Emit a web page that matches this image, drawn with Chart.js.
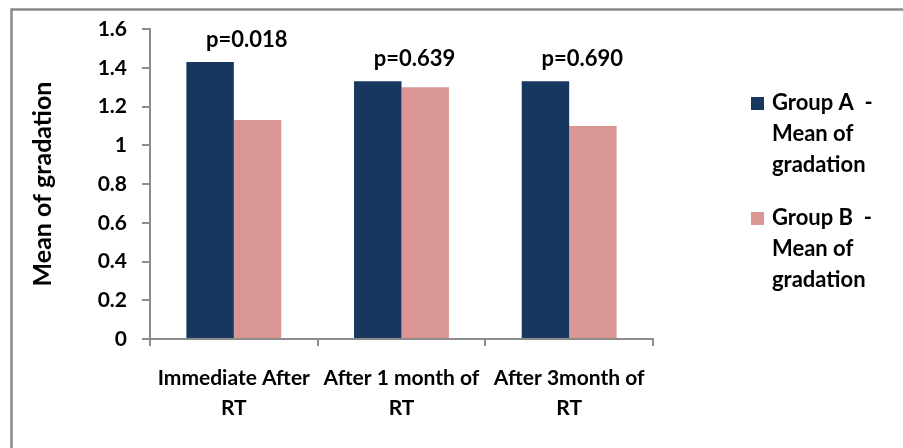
<!DOCTYPE html>
<html>
<head>
<meta charset="utf-8">
<script src="https://cdn.jsdelivr.net/npm/chart.js@4.4.1/dist/chart.umd.min.js"></script>
<style>
  html, body { margin: 0; padding: 0; background: #ffffff; }
  #wrap { position: relative; width: 903px; height: 448px; }
</style>
</head>
<body>
<div id="wrap"><canvas id="chart" width="903" height="448"></canvas></div>
<script>
// Time points after radiotherapy
const categories = [["Immediate After", "RT"], ["After 1 month of", "RT"], ["After 3month of", "RT"]];

// Mean gradation per group
const groupA = [1.43, 1.33, 1.33];
const groupB = [1.13, 1.30, 1.10];

// Series names, wrapped as shown in the legend
const seriesNames = [
  ["Group A  -", "Mean of", "gradation"],
  ["Group B  -", "Mean of", "gradation"]
];

// Significance between groups at each time point
const pValues = ["p=0.018", "p=0.639", "p=0.690"];

// Value axis
const yMin = 0, yMax = 1.6, yStep = 0.2;

const FONT = "Lato, 'Open Sans', sans-serif";
const WEIGHT = "bold";
const colors = ["#17375E", "#D99694"];
const axisGray = "#8c8c8c";

// Frame around the figure (top and left edges visible)
const framePlugin = {
  id: "frame",
  beforeDraw(chart) {
    const ctx = chart.ctx;
    ctx.save();
    ctx.strokeStyle = "#8a8a8a";
    ctx.lineWidth = 2.5;
    ctx.strokeRect(11.5, 9.5, 1200, 1200);
    ctx.restore();
  }
};

// p-value labels above each pair of bars
const pValuePlugin = {
  id: "pvalues",
  afterDatasetsDraw(chart) {
    const ctx = chart.ctx;
    const x = chart.scales.x, y = chart.scales.y;
    ctx.save();
    ctx.font = WEIGHT + " 22px " + FONT;
    ctx.fillStyle = "#000";
    ctx.textAlign = "center";
    ctx.textBaseline = "middle";
    pValues.forEach((txt, i) => {
      const top = y.getPixelForValue(Math.max(groupA[i], groupB[i]));
      ctx.fillText(txt, x.getPixelForValue(i) + 13, top - 22);
    });
    ctx.restore();
  }
};

// Legend to the right of the plot
const legendPlugin = {
  id: "sideLegend",
  afterDraw(chart) {
    const ctx = chart.ctx;
    ctx.save();
    ctx.font = WEIGHT + " 22px " + FONT;
    ctx.textBaseline = "middle";
    ctx.textAlign = "left";
    const starts = [103, 218];
    const lineGap = 31;
    seriesNames.forEach((lines, i) => {
      const y0 = starts[i];
      ctx.fillStyle = colors[i];
      ctx.fillRect(751, y0 - 6, 13, 13);
      ctx.fillStyle = "#000";
      lines.forEach((ln, k) => ctx.fillText(ln, 772, y0 + k * lineGap));
    });
    ctx.restore();
  }
};

new Chart(document.getElementById("chart"), {
  type: "bar",
  data: {
    labels: categories,
    datasets: [
      { label: seriesNames[0].join(" "), data: groupA, backgroundColor: colors[0] },
      { label: seriesNames[1].join(" "), data: groupB, backgroundColor: colors[1] }
    ]
  },
  options: {
    responsive: false,
    animation: false,
    devicePixelRatio: 1,
    layout: { padding: { left: 28, right: 250, top: 29, bottom: 0 } },
    datasets: { bar: { categoryPercentage: 0.566, barPercentage: 1.0 } },
    plugins: {
      legend: { display: false },
      tooltip: { enabled: false }
    },
    scales: {
      x: {
        grid: { display: true, drawOnChartArea: false, drawTicks: true, tickLength: 7, color: axisGray, lineWidth: 2, offset: true },
        border: { display: true, color: axisGray, width: 2 },
        ticks: {
          color: "#000",
          font: { family: FONT, size: 21, weight: WEIGHT, lineHeight: 1.45 },
          padding: 17,
          maxRotation: 0,
          autoSkip: false
        },
        afterFit(scale) { scale.height = 109; }
      },
      y: {
        min: yMin,
        max: yMax,
        grid: { display: true, drawOnChartArea: false, drawTicks: true, tickLength: 8, color: axisGray, lineWidth: 2 },
        border: { display: true, color: axisGray, width: 2 },
        ticks: {
          stepSize: yStep,
          color: "#000",
          font: { family: FONT, size: 21, weight: WEIGHT },
          padding: 15,
          callback: (v) => String(Math.round(v * 10) / 10)
        },
        title: {
          display: true,
          text: "Mean of gradation",
          color: "#000",
          font: { family: FONT, size: 25, weight: WEIGHT },
          padding: { top: 0, bottom: 0 }
        },
        afterFit(scale) { scale.width = 150 - 28; }
      }
    }
  },
  plugins: [framePlugin, pValuePlugin, legendPlugin]
});
</script>
</body>
</html>
